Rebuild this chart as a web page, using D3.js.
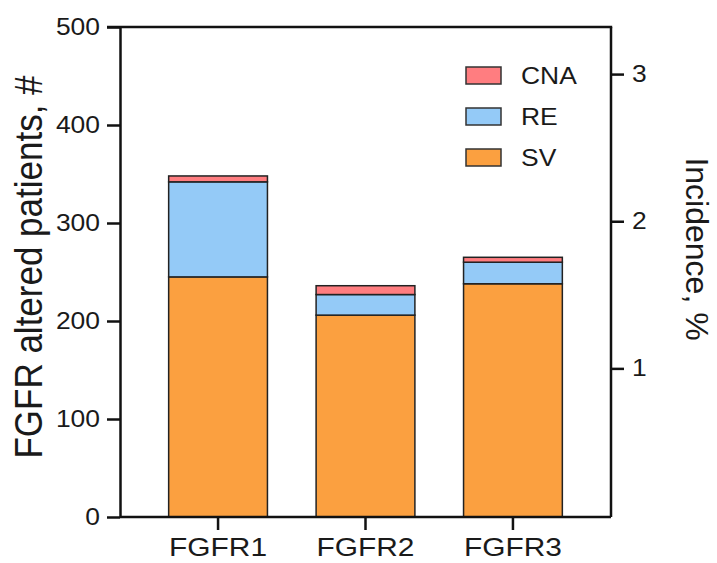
<!DOCTYPE html>
<html>
<head>
<meta charset="utf-8">
<script src="https://cdn.jsdelivr.net/npm/d3@7"></script>
<style>
  body { margin: 0; background: #fff; }
  text { font-family: "Liberation Sans", Arial, sans-serif; fill: #1a1a1a; }
</style>
</head>
<body>
<div id="chart"></div>
<script>
// data
const genes = ['FGFR1', 'FGFR2', 'FGFR3']
const types = ['SV', 'RE', 'CNA']
const sv = [245, 206, 238]
const re = [97, 21, 22]
const cna = [6, 9, 5]
const leftTicks = [0, 100, 200, 300, 400, 500]
const rightTicks = [1, 2, 3]

const colours = { SV: '#fba040', RE: '#94caf7', CNA: '#ff7d80' }
const stretch = 1.15 // the reference text is a little wide

const width = 717
const height = 563
const mLeft = 120
const mRight = 611
const mTop = 27
const mBottom = 517

const svg = d3.select('#chart')
  .append('svg')
  .attr('width', width)
  .attr('height', height)

const x = d3.scaleBand().domain(genes).range([mLeft, mRight]).paddingInner(0.33).paddingOuter(0.33)
const y = d3.scaleLinear().domain([0, 500]).range([mBottom, mTop])
const yR = d3.scaleLinear().domain([-0.01, 3.32]).range([mBottom, mTop])

// stacked series
const rows = genes.map((g, i) => ({ gene: g, SV: sv[i], RE: re[i], CNA: cna[i] }))
const series = d3.stack().keys(types)(rows)

svg.append('g')
  .selectAll('g')
  .data(series)
  .join('g')
  .attr('fill', d => colours[d.key])
  .selectAll('rect')
  .data(d => d)
  .join('rect')
  .attr('x', d => x(d.data.gene))
  .attr('y', d => y(d[1]))
  .attr('width', x.bandwidth())
  .attr('height', d => y(d[0]) - y(d[1]))
  .attr('stroke', '#222')
  .attr('stroke-width', 1.5)

// axes
const axisStyle = g => {
  g.selectAll('.domain').attr('stroke', '#111').attr('stroke-width', 2.5)
  g.selectAll('.tick line').attr('stroke', '#111').attr('stroke-width', 2.5)
  g.selectAll('.tick text').attr('fill', '#1a1a1a')
}

const gl = svg.append('g')
  .attr('transform', `translate(${mLeft},0)`)
  .call(d3.axisLeft(y).tickValues(leftTicks).tickSize(13).tickSizeOuter(0).tickPadding(8))
  .call(axisStyle)
gl.selectAll('.tick text')
  .attr('font-size', 23)
  .attr('x', -20 / stretch)
  .attr('transform', `scale(${stretch},1)`)

const gr = svg.append('g')
  .attr('transform', `translate(${mRight},0)`)
  .call(d3.axisRight(yR).tickValues(rightTicks).tickFormat(d3.format('d')).tickSize(13).tickSizeOuter(0).tickPadding(8))
  .call(axisStyle)
gr.select('.domain').attr('d', `M0,${mTop}V${mBottom}`)
gr.selectAll('.tick text').attr('font-size', 23)
  .attr('x', 21 / stretch)
  .attr('transform', `scale(${stretch},1)`)

const gb = svg.append('g')
  .attr('transform', `translate(0,${mBottom})`)
  .call(d3.axisBottom(x).tickSize(13).tickSizeOuter(0).tickPadding(8))
  .call(axisStyle)
gb.select('.domain').attr('d', `M${mLeft},0H${mRight}`)
gb.selectAll('.tick text').attr('font-size', 26)
  .attr('y', 39).attr('dy', null)
  .attr('transform', `scale(${stretch},1)`)

// top frame line
svg.append('line')
  .attr('x1', mLeft - 13).attr('x2', mRight + 1.2)
  .attr('y1', mTop).attr('y2', mTop)
  .attr('stroke', '#111').attr('stroke-width', 2.5)

// axis titles
svg.append('text')
  .attr('transform', `translate(42,267) scale(1.1,1) rotate(-90)`)
  .attr('text-anchor', 'middle')
  .attr('font-size', 35)
  .text('FGFR altered patients, #')

svg.append('text')
  .attr('transform', `translate(686,249) rotate(90)`)
  .attr('text-anchor', 'middle')
  .attr('font-size', 32)
  .text('Incidence, %')

// legend
const legend = svg.append('g')
  .selectAll('g')
  .data(types.slice().reverse())
  .join('g')
  .attr('transform', (d, i) => `translate(466,${67 + i * 41})`)
legend.append('rect')
  .attr('width', 35).attr('height', 17)
  .attr('fill', d => colours[d])
  .attr('stroke', '#333').attr('stroke-width', 1.5)
legend.append('text')
  .attr('transform', `translate(55,17) scale(${stretch},1)`)
  .attr('font-size', 23)
  .text(d => d)
</script>
</body>
</html>
